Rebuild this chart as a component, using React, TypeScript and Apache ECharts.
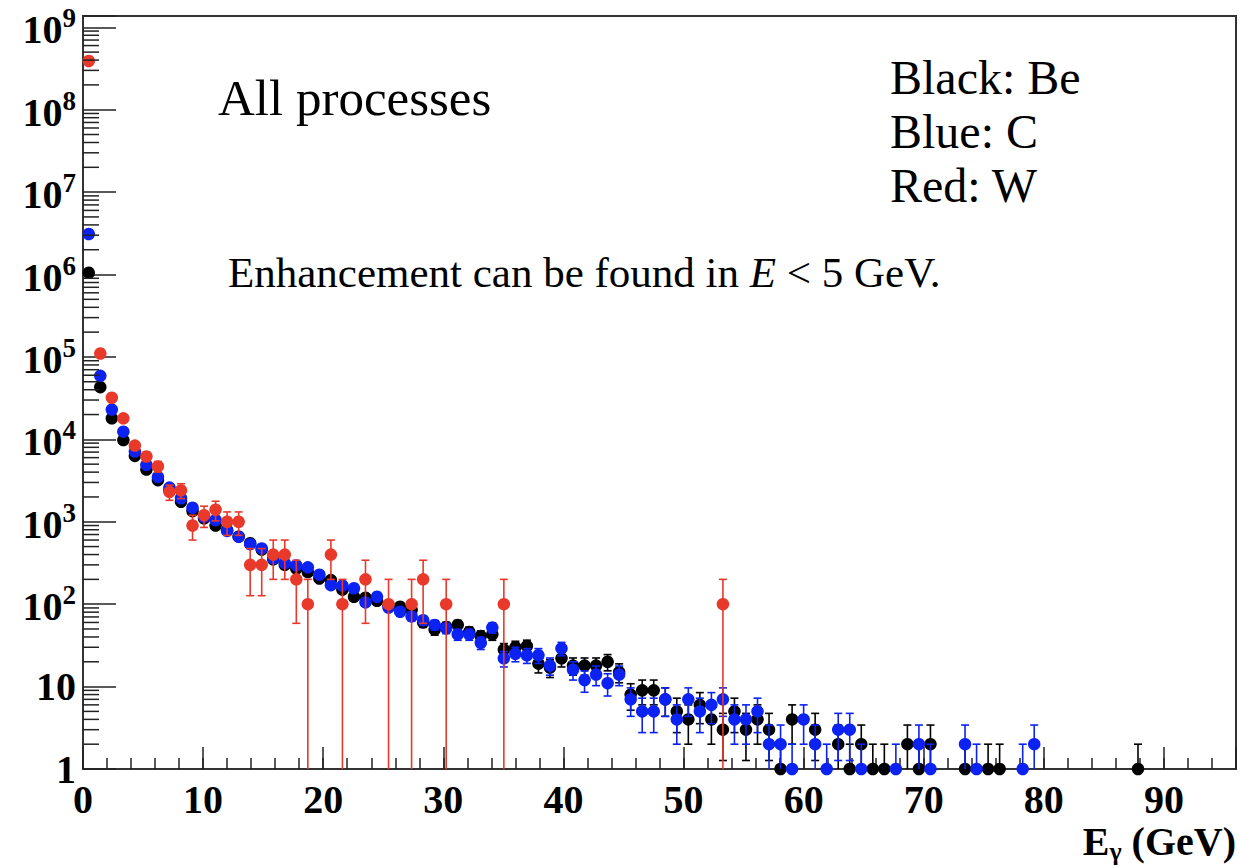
import React, { useEffect, useRef } from "react";
import * as echarts from "echarts";

// ---- histogram binning (100 bins over 0..96 GeV) ----
const BIN_WIDTH = 0.96;
const X_MIN = 0;
const X_MAX = 96;
const Y_MIN = 1;
const Y_MAX = 1.371e9;

// bin contents, bin index k = 0,1,2,... (0 = empty bin, not drawn)
const beBlack = [
  1.05e6, 4.3e4, 1.8e4, 9.8e3, 6.3e3, 4.3e3, 3.2e3, 2.4e3, 1.75e3, 1.35e3,
  1.1e3, 900, 790, 660, 550, 460, 350, 300, 270, 245,
  205, 196, 150, 123, 120, 110, 97, 93, 85, 60,
  49, 53, 56, 46, 41, 43, 28, 30, 31, 19,
  17, 22, 18, 18, 18, 20, 15, 8, 9, 9,
  7, 5, 4, 6, 4, 3, 5, 3, 4, 3,
  1, 4, 0, 3, 0, 2, 1, 2, 1, 1,
  0, 2, 1, 2, 0, 0, 1, 0, 1, 1,
  0, 0, 0, 0, 0, 0, 0, 0, 0, 0,
  0, 1,
];
const cBlue = [
  3.1e6, 5.9e4, 2.3e4, 1.24e4, 7.1e3, 4.9e3, 3.5e3, 2.6e3, 1.93e3, 1.48e3,
  1.15e3, 1.05e3, 775, 660, 535, 475, 360, 315, 295, 280,
  228, 170, 168, 156, 105, 123, 91, 81, 71, 64,
  56, 51, 43, 43, 34, 52, 22, 25, 24, 24,
  18, 29, 16, 12, 14, 11, 14, 7, 5, 5,
  7, 4, 7, 5, 6, 7, 4, 4, 5, 2,
  2, 1, 4, 2, 1, 3, 3, 1, 0, 0,
  1, 0, 2, 1, 0, 0, 2, 1, 0, 0,
  0, 1, 2,
];
const wRed = [
  3.9e8, 1.1e5, 3.2e4, 1.8e4, 8.4e3, 6.2e3, 4.7e3, 2.3e3, 2.4e3, 900,
  1200, 1400, 1000, 1000, 300, 300, 400, 400, 200, 100,
  0, 400, 100, 0, 200, 0, 100, 0, 100, 200,
  0, 100, 0, 0, 0, 0, 100, 0, 0, 0,
  0, 0, 0, 0, 0, 0, 0, 0, 0, 0,
  0, 0, 0, 0, 0, 100,
];
// per-entry event weights (error = sqrt(content * weight))
const BE_WEIGHT = 1;
const C_WEIGHT = 1;
const W_WEIGHT = 100;

const xTickLabels = [0, 10, 20, 30, 40, 50, 60, 70, 80, 90];
const yDecades = [0, 1, 2, 3, 4, 5, 6, 7, 8, 9];
const yMinorMultipliers = [2, 3, 4, 5, 6, 7, 8, 9];

const BLACK = "#000000";
const BLUE = "#0b22f2";
const RED = "#e8392b";
const SERIF = "'Liberation Serif', 'Times New Roman', serif";

function histPoints(values: number[], weight: number) {
  const out: number[][] = [];
  values.forEach((v, k) => {
    if (v > 0) out.push([(k + 0.5) * BIN_WIDTH, v, Math.sqrt(v * weight)]);
  });
  return out;
}

function makeErrRender(color: string, lw: number) {
  return (params: any, api: any) => {
    const x = api.value(0);
    const v = api.value(1);
    const e = api.value(2);
    const c = api.coord([x, v]);
    const top = api.coord([x, v + e])[1];
    const lo = v - e;
    const hasLow = lo > Y_MIN;
    const low = hasLow ? api.coord([x, lo])[1] : api.coord([x, Y_MIN])[1];
    const xl = api.coord([x - BIN_WIDTH / 2, v])[0];
    const xr = api.coord([x + BIN_WIDTH / 2, v])[0];
    const style = { stroke: color, lineWidth: lw };
    const children: any[] = [
      { type: "line", shape: { x1: c[0], y1: top, x2: c[0], y2: low }, style },
      { type: "line", shape: { x1: xl, y1: c[1], x2: xr, y2: c[1] }, style },
      { type: "line", shape: { x1: c[0] - 4, y1: top, x2: c[0] + 4, y2: top }, style },
    ];
    if (hasLow) {
      children.push({ type: "line", shape: { x1: c[0] - 4, y1: low, x2: c[0] + 4, y2: low }, style });
    }
    return { type: "group", children };
  };
}

export default function App() {
  const ref = useRef<HTMLDivElement>(null);

  useEffect(() => {
    if (!ref.current) return;
    const chart = echarts.init(ref.current, undefined, { renderer: "svg" });

    const datasets = [
      { name: "Be", values: beBlack, weight: BE_WEIGHT, color: BLACK, z: 2 },
      { name: "C", values: cBlue, weight: C_WEIGHT, color: BLUE, z: 4 },
      { name: "W", values: wRed, weight: W_WEIGHT, color: RED, z: 6 },
    ];

    const series: any[] = [];
    datasets.forEach((d) => {
      const pts = histPoints(d.values, d.weight);
      series.push({
        type: "custom",
        name: d.name + " errors",
        xAxisIndex: 0,
        yAxisIndex: 0,
        clip: true,
        silent: true,
        z: d.z,
        data: pts,
        renderItem: makeErrRender(d.color, 1.6),
      });
      series.push({
        type: "scatter",
        name: d.name,
        xAxisIndex: 0,
        yAxisIndex: 0,
        symbol: "circle",
        symbolSize: 12.5,
        silent: true,
        z: d.z + 1,
        itemStyle: { color: d.color, opacity: 1 },
        data: pts.map((p) => [p[0], p[1]]),
      });
    });

    // log-axis minor ticks at 2..9 x 10^n
    const minorTicks: number[][] = [];
    yDecades.forEach((n) => {
      yMinorMultipliers.forEach((m) => {
        const v = m * Math.pow(10, n);
        if (v < Y_MAX) minorTicks.push([X_MIN, v]);
      });
    });
    series.push({
      type: "custom",
      name: "minor ticks",
      xAxisIndex: 0,
      yAxisIndex: 0,
      silent: true,
      clip: false,
      z: 10,
      data: minorTicks,
      renderItem: (params: any, api: any) => {
        const p = api.coord([api.value(0), api.value(1)]);
        return {
          type: "line",
          shape: { x1: p[0], y1: p[1], x2: p[0] + 16, y2: p[1] },
          style: { stroke: "#222", lineWidth: 1.5 },
        };
      },
    });

    const option: any = {
      animation: false,
      grid: {
        left: 83,
        right: 4,
        top: 16,
        bottom: 99,
        show: true,
        borderColor: "#333",
        borderWidth: 2,
      },
      xAxis: [
        {
          type: "value",
          min: X_MIN,
          max: X_MAX,
          interval: 10,
          position: "bottom",
          axisLine: { show: true, onZero: false, lineStyle: { color: "#333", width: 2 } },
          axisTick: { show: true, inside: true, length: 22, lineStyle: { color: "#222", width: 1.5 } },
          splitLine: { show: false },
          axisLabel: {
            show: true,
            margin: 10,
            fontFamily: SERIF,
            fontWeight: "bold",
            fontSize: 40,
            color: "#000",
            formatter: (v: number) => (xTickLabels.indexOf(v) >= 0 ? String(v) : ""),
          },
        },
        {
          type: "value",
          min: X_MIN,
          max: X_MAX,
          interval: 2,
          position: "bottom",
          offset: 0,
          axisLine: { show: false },
          axisTick: { show: true, inside: true, length: 11, lineStyle: { color: "#222", width: 1.5 } },
          splitLine: { show: false },
          axisLabel: { show: false },
        },
      ],
      yAxis: [
        {
          type: "log",
          logBase: 10,
          min: Y_MIN,
          max: Y_MAX,
          splitNumber: 10,
          axisLine: { show: true, lineStyle: { color: "#333", width: 2 } },
          axisTick: { show: true, inside: true, length: 33, lineStyle: { color: "#222", width: 1.5 } },
          splitLine: { show: false },
          axisLabel: {
            show: true,
            margin: 7,
            color: "#000",
            formatter: (v: number) => {
              const e = Math.round(Math.log10(v));
              if (Math.abs(v - Math.pow(10, e)) / Math.pow(10, e) > 1e-6) return "";
              if (yDecades.indexOf(e) < 0) return "";
              if (e === 0) return "{p|1}";
              if (e === 1) return "{p|10}";
              return "{b|10}{s|" + e + "}";
            },
            rich: {
              p: { fontFamily: SERIF, fontWeight: "bold", fontSize: 40, color: "#000" },
              b: {
                fontFamily: SERIF,
                fontWeight: "bold",
                fontSize: 40,
                color: "#000",
                verticalAlign: "bottom",
                padding: [5, 0, 0, 0],
              },
              s: {
                fontFamily: SERIF,
                fontWeight: "bold",
                fontSize: 27,
                color: "#000",
                verticalAlign: "top",
              },
            },
          },
        },
      ],
      graphic: [
        {
          type: "text",
          silent: true,
          style: {
            text: "All processes",
            x: 218,
            y: 98,
            fontFamily: SERIF,
            fontSize: 51,
            fill: "#000",
            align: "left",
            verticalAlign: "middle",
          },
        },
        {
          type: "text",
          silent: true,
          style: {
            text: "Black: Be",
            x: 890,
            y: 77,
            fontFamily: SERIF,
            fontSize: 48,
            fill: "#000",
            align: "left",
            verticalAlign: "middle",
          },
        },
        {
          type: "text",
          silent: true,
          style: {
            text: "Blue: C",
            x: 890,
            y: 131,
            fontFamily: SERIF,
            fontSize: 48,
            fill: "#000",
            align: "left",
            verticalAlign: "middle",
          },
        },
        {
          type: "text",
          silent: true,
          style: {
            text: "Red: W",
            x: 890,
            y: 185,
            fontFamily: SERIF,
            fontSize: 48,
            fill: "#000",
            align: "left",
            verticalAlign: "middle",
          },
        },
        {
          type: "text",
          silent: true,
          style: {
            text: "{n|Enhancement can be found in }{i|E}{n| < 5 GeV.}",
            x: 228,
            y: 272,
            align: "left",
            verticalAlign: "middle",
            rich: {
              n: { fontFamily: SERIF, fontSize: 43, fill: "#000", color: "#000" },
              i: { fontFamily: SERIF, fontSize: 43, fontStyle: "italic", fill: "#000", color: "#000" },
            },
          },
        },
        {
          type: "text",
          silent: true,
          style: {
            text: "{b|E}{g|γ}{b| (GeV)}",
            x: 1236,
            y: 843,
            align: "right",
            verticalAlign: "middle",
            rich: {
              b: {
                fontFamily: SERIF,
                fontWeight: "bold",
                fontSize: 40,
                color: "#000",
                fill: "#000",
                verticalAlign: "top",
                padding: [0, 0, 3, 0],
              },
              g: {
                fontFamily: SERIF,
                fontWeight: "bold",
                fontSize: 26,
                color: "#000",
                fill: "#000",
                verticalAlign: "bottom",
              },
            },
          },
        },
      ],
      series,
    };

    chart.setOption(option);
    return () => chart.dispose();
  }, []);

  return (
    <div
      ref={ref}
      style={{ position: "fixed", left: 0, top: 0, width: 1240, height: 868, background: "#fff" }}
    />
  );
}
